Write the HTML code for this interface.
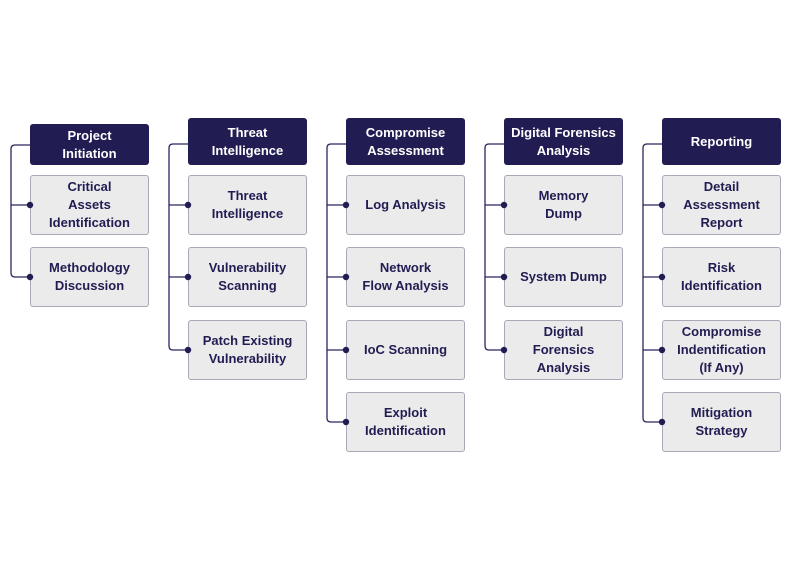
<!DOCTYPE html>
<html><head><meta charset="utf-8"><style>
html,body{margin:0;padding:0;background:#fff;}
body{width:791px;height:570px;position:relative;overflow:hidden;font-family:"Liberation Sans",sans-serif;}
.b{position:absolute;width:119px;box-sizing:border-box;display:flex;align-items:center;justify-content:center;text-align:center;font-weight:bold;font-size:13px;line-height:18px;border-radius:3px;}
.h{background:#211c52;color:#fff;}
.c{background:#ebebeb;border:1px solid #a9a8b8;color:#211c52;height:60px;}
svg{position:absolute;left:0;top:0;}
</style></head><body>
<svg width="791" height="570">
<g fill="none" stroke="#2a2560" stroke-width="1.3">
<path d="M30 145 H15 Q11 145 11 149 V273 Q11 277 15 277 H30"/><path d="M11 205 H30"/>
<path d="M188 144 H173 Q169 144 169 148 V346 Q169 350 173 350 H188"/><path d="M169 205 H188 M169 277 H188"/>
<path d="M346 144 H331 Q327 144 327 148 V418 Q327 422 331 422 H346"/><path d="M327 205 H346 M327 277 H346 M327 350 H346"/>
<path d="M504 144 H489 Q485 144 485 148 V346 Q485 350 489 350 H504"/><path d="M485 205 H504 M485 277 H504"/>
<path d="M662 144 H647 Q643 144 643 148 V418 Q643 422 647 422 H662"/><path d="M643 205 H662 M643 277 H662 M643 350 H662"/>
</g>
</svg>
<div class="b h" style="left:30px;top:124px;height:41px;">Project<br>Initiation</div>
<div class="b c" style="left:30px;top:175px;">Critical<br>Assets<br>Identification</div>
<div class="b c" style="left:30px;top:247px;">Methodology<br>Discussion</div>

<div class="b h" style="left:188px;top:118px;height:47px;">Threat<br>Intelligence</div>
<div class="b c" style="left:188px;top:175px;">Threat<br>Intelligence</div>
<div class="b c" style="left:188px;top:247px;">Vulnerability<br>Scanning</div>
<div class="b c" style="left:188px;top:320px;">Patch Existing<br>Vulnerability</div>

<div class="b h" style="left:346px;top:118px;height:47px;">Compromise<br>Assessment</div>
<div class="b c" style="left:346px;top:175px;">Log Analysis</div>
<div class="b c" style="left:346px;top:247px;">Network<br>Flow Analysis</div>
<div class="b c" style="left:346px;top:320px;">IoC Scanning</div>
<div class="b c" style="left:346px;top:392px;">Exploit<br>Identification</div>

<div class="b h" style="left:504px;top:118px;height:47px;">Digital Forensics<br>Analysis</div>
<div class="b c" style="left:504px;top:175px;">Memory<br>Dump</div>
<div class="b c" style="left:504px;top:247px;">System Dump</div>
<div class="b c" style="left:504px;top:320px;">Digital<br>Forensics<br>Analysis</div>

<div class="b h" style="left:662px;top:118px;height:47px;">Reporting</div>
<div class="b c" style="left:662px;top:175px;">Detail<br>Assessment<br>Report</div>
<div class="b c" style="left:662px;top:247px;">Risk<br>Identification</div>
<div class="b c" style="left:662px;top:320px;">Compromise<br>Indentification<br>(If Any)</div>
<div class="b c" style="left:662px;top:392px;">Mitigation<br>Strategy</div>

<svg width="791" height="570"><g fill="#211c52">
<circle cx="30" cy="205" r="3.2"/><circle cx="30" cy="277" r="3.2"/>
<circle cx="188" cy="205" r="3.2"/><circle cx="188" cy="277" r="3.2"/><circle cx="188" cy="350" r="3.2"/>
<circle cx="346" cy="205" r="3.2"/><circle cx="346" cy="277" r="3.2"/><circle cx="346" cy="350" r="3.2"/><circle cx="346" cy="422" r="3.2"/>
<circle cx="504" cy="205" r="3.2"/><circle cx="504" cy="277" r="3.2"/><circle cx="504" cy="350" r="3.2"/>
<circle cx="662" cy="205" r="3.2"/><circle cx="662" cy="277" r="3.2"/><circle cx="662" cy="350" r="3.2"/><circle cx="662" cy="422" r="3.2"/>
</g></svg>
</body></html>
